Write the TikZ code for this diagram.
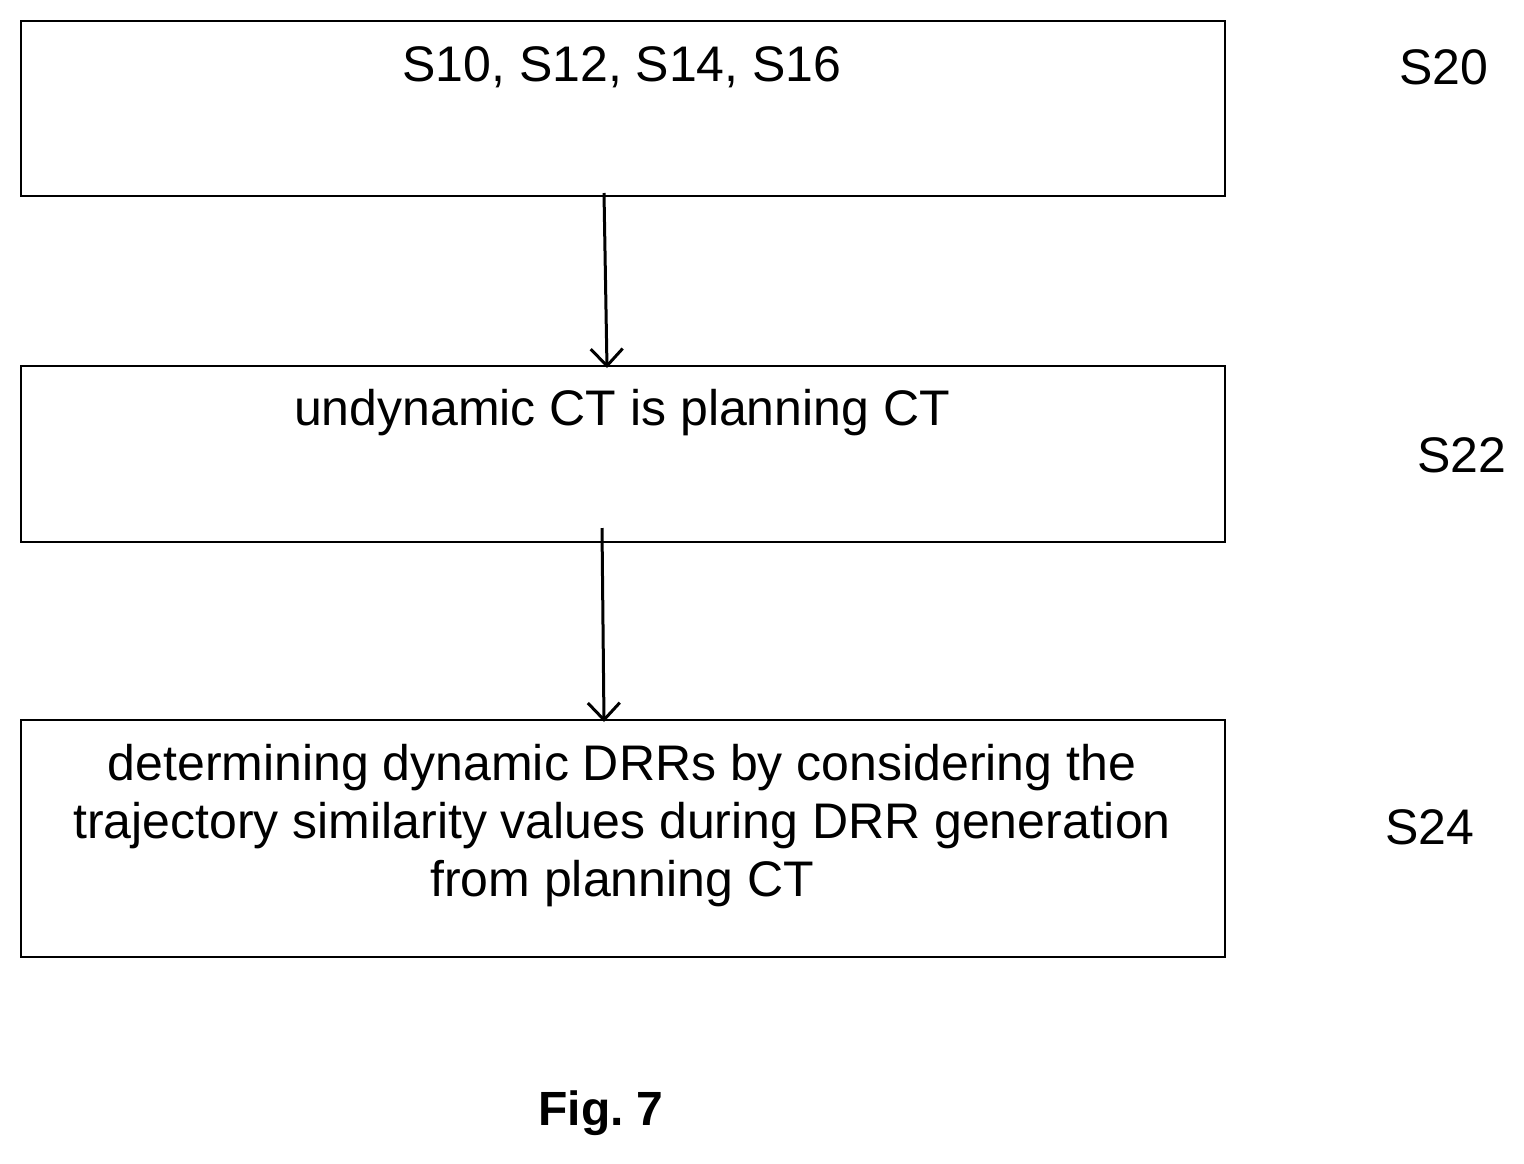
\documentclass[tikz,border=0pt]{standalone}
\usepackage{fontspec}
\setmainfont{Liberation Sans}
\usetikzlibrary{arrows.meta}
\begin{document}
\begin{tikzpicture}[x=1pt,y=-1pt,
  box/.style={draw,line width=2.2pt,inner sep=0pt},
  txt/.style={font=\fontsize{50}{58}\selectfont,align=center,inner sep=0pt},
  arr/.style={line width=3pt,-{Straight Barb[length=17pt,width=32pt,line width=3pt]}}]
\useasboundingbox (0,0) rectangle (1524,1163);
\node[box,minimum width=1204pt,minimum height=175pt] (b1) at (623,108.5) {};
\node[box,minimum width=1204pt,minimum height=176pt] (b2) at (623,454) {};
\node[box,minimum width=1204pt,minimum height=237pt] (b3) at (623,838.5) {};
\node[txt] (t1) at (622,67) {S10, S12, S14, S16};
\node[txt] (t2) at (622,413) {undynamic CT is planning CT};
\node[txt] (t3) at (622,826) {determining dynamic DRRs by considering the\\trajectory similarity values during DRR generation\\from planning CT};
\node[txt] (l1) at (1444,67) {S20};
\node[txt] (l2) at (1462,455) {S22};
\node[txt] (l3) at (1430,827) {S24};
\node[txt,font=\bfseries\fontsize{48}{52}\selectfont] (fig) at (601,1113) {Fig.~7};
\coordinate (a1s) at (604,193);
\coordinate (a1e) at (607,368);
\coordinate (a2s) at (602,528);
\coordinate (a2e) at (604,722);
\draw[arr] (a1s) -- (a1e);
\draw[arr] (a2s) -- (a2e);
\end{tikzpicture}
\end{document}
